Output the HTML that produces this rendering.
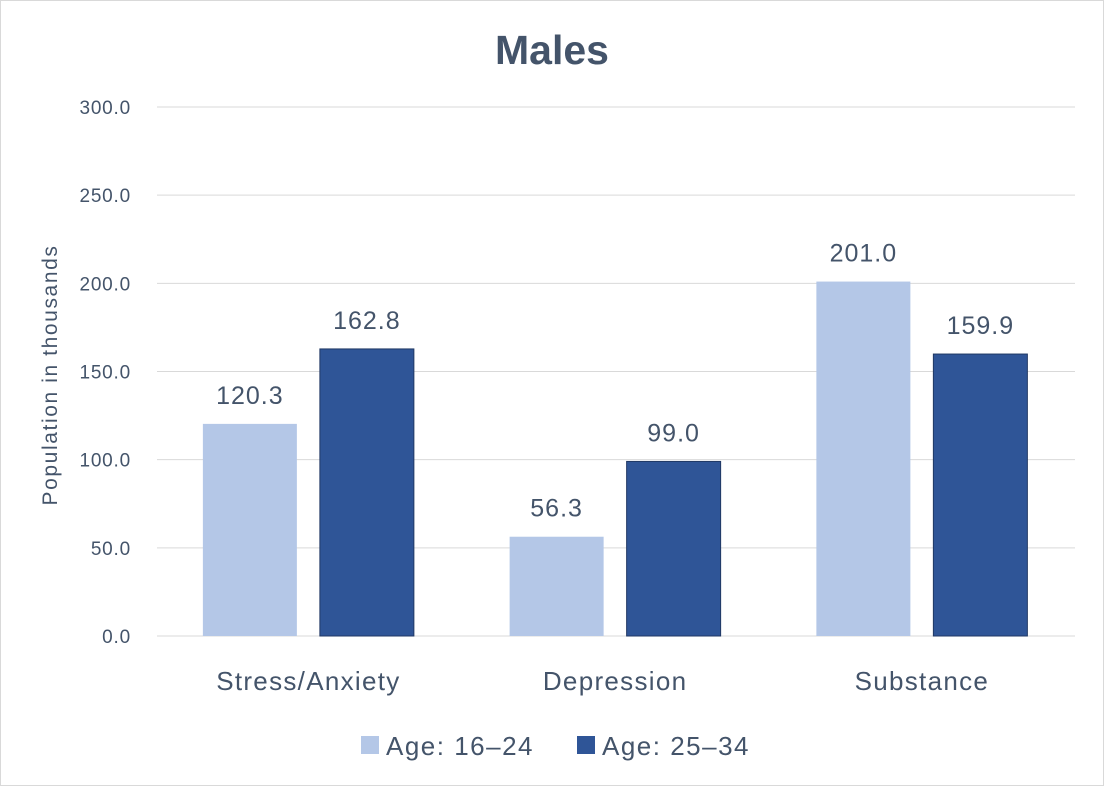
<!DOCTYPE html>
<html><head><meta charset="utf-8"><style>
body{margin:0;background:#fff;}
svg{display:block;font-family:"Liberation Sans",sans-serif;}
</style></head><body>
<svg id="chart" width="1104" height="786">
<rect x="0.5" y="0.5" width="1103" height="785" fill="#fff" stroke="#d9d9d9"/>
<text x="552" y="64" text-anchor="middle" font-size="41" font-weight="bold" fill="#44546a">Males</text>
<text transform="translate(57,375) rotate(-90)" text-anchor="middle" font-size="21" letter-spacing="1.6" fill="#44546a">Population in thousands</text>
<g id="grid"></g><g id="bars"></g>
<g>
<rect x="361" y="736" width="18" height="18" fill="#b4c7e7"/>
<text x="386" y="755" font-size="26" letter-spacing="1.5" fill="#44546a">Age: 16–24</text>
<rect x="577" y="736" width="18" height="18" fill="#2f5597"/>
<text x="602" y="755" font-size="26" letter-spacing="1.5" fill="#44546a">Age: 25–34</text>
</g>
</svg>
<script>
const categories=["Stress/Anxiety","Depression","Substance"];
const age1624=[120.3,56.3,201.0];
const age2534=[162.8,99.0,159.9];
const yTicks=[0,50,100,150,200,250,300];
const NS="http://www.w3.org/2000/svg";
const x0=155,x1=1075,y0=636,y1=107,yMax=300;
const yS=v=>y0-(v/yMax)*(y0-y1);
const slot=306.75;
const grid=document.getElementById('grid'),bars=document.getElementById('bars');
function mk(tag,a,p){const e=document.createElementNS(NS,tag);for(const k in a)e.setAttribute(k,a[k]);p.appendChild(e);return e;}
yTicks.forEach(t=>{
 const l=mk('line',{x1:157,x2:x1,y1:yS(t),y2:yS(t),stroke:'#d9d9d9','stroke-width':1},grid);
 
 
 const tx=mk('text',{x:131,y:yS(t)+7,'text-anchor':'end','font-size':19,'letter-spacing':0.8,fill:'#44546a'},grid);
 tx.textContent=t.toFixed(1);
 
 
});
const bw=94,gap=23;
categories.forEach((c,i)=>{
 const cx=x0+slot*(i+0.5);
 [[age1624,'#b4c7e7','none'],[age2534,'#2f5597','#203864']].forEach((s,j)=>{
  const v=s[0][i];
  const x=j===0?cx-gap/2-bw:cx+gap/2;
  const r=mk('rect',{x:x,y:yS(v),width:bw,height:y0-yS(v),fill:s[1],stroke:s[2]},bars);
  
  
  const t=mk('text',{x:x+bw/2,y:yS(v)-20,'text-anchor':'middle','font-size':25,'letter-spacing':1,fill:'#44546a'},bars);
  t.textContent=v.toFixed(1);
  
  
 });
 const t=mk('text',{x:cx,y:690,'text-anchor':'middle','font-size':26,'letter-spacing':1.3,fill:'#44546a'},bars);
 t.textContent=c;
 
 
});
</script>
</body></html>
